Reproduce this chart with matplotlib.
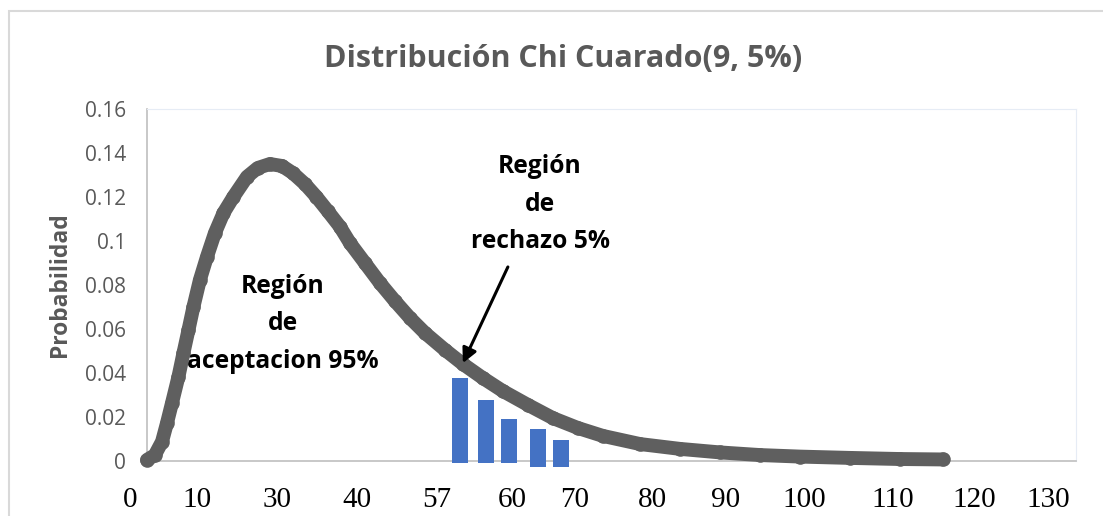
import matplotlib
matplotlib.use('Agg')
import matplotlib.pyplot as plt
from matplotlib.patches import Rectangle

# curve points (x in plot units 0-130, y = probability)
curve_x = [0.0, 1.1, 2.1, 2.8, 3.5, 4.4, 5.1, 5.8, 6.5, 7.4, 8.4, 9.5, 10.7, 12.1, 14.0,
           15.5, 17.2, 18.9, 20.4, 22.1, 23.7, 25.3, 27.0, 28.4, 30.5, 32.6, 34.7, 36.8,
           38.9, 41.7, 44.2, 47.0, 49.8, 53.3, 56.8, 60.3, 63.8, 69.0, 74.6, 80.2, 85.8,
           91.4, 98.4, 105.4, 111.4]
curve_y = [0.0005, 0.0027, 0.0088, 0.0173, 0.0264, 0.0383, 0.0491, 0.0595, 0.0701, 0.0823,
           0.0929, 0.1036, 0.1127, 0.1201, 0.1292, 0.1332, 0.1350, 0.1341, 0.1309, 0.1259,
           0.1201, 0.1136, 0.1065, 0.0991, 0.0900, 0.0809, 0.0727, 0.0650, 0.0582, 0.0505,
           0.0441, 0.0377, 0.0318, 0.0255, 0.0195, 0.0150, 0.0114, 0.0077, 0.0055, 0.0039,
           0.0027, 0.0020, 0.0014, 0.0009, 0.0007]

# rejection-region bars
bar_x = [43.8, 47.4, 50.7, 54.7, 57.9]
bar_top = [0.0377, 0.0277, 0.0191, 0.0145, 0.0095]
bar_bottom = [-0.0009, -0.0009, -0.0009, -0.0027, -0.0027]

# hand typed x labels under the chart
xlabels = ['0', '10', '30', '40', '57', '60', '70', '80', '90', '100', '110', '120', '130']
xlabel_pos = [-2.4, 7.0, 18.2, 29.4, 40.6, 51.1, 59.9, 70.7, 80.9, 92.0, 104.4, 115.7, 126.1]

yticks = [0, 0.02, 0.04, 0.06, 0.08, 0.1, 0.12, 0.14, 0.16]
ytick_labels = ['0', '0.02', '0.04', '0.06', '0.08', '0.1', '0.12', '0.14', '0.16']

gray = '#595959'
W, H = 1103, 516
fig = plt.figure(figsize=(W / 100, H / 100), dpi=100)
fig.patch.set_facecolor('white')

# chart area border
fig.patches.append(Rectangle((9 / W, -0.1), 1.2, 1.1 - 11 / H, transform=fig.transFigure,
                             fill=False, edgecolor='#D9D9D9', lw=1.5))

ax = fig.add_axes([147 / W, (H - 461) / H, (1076 - 147) / W, 352 / H])
ax.set_xlim(0, 130)
ax.set_ylim(0, 0.16)

ax.bar(bar_x, [t - b for t, b in zip(bar_top, bar_bottom)], bottom=bar_bottom,
       width=2.25, color='#4472C4', clip_on=False, zorder=3)

ax.plot(curve_x, curve_y, color='#5f5f5f', lw=10, solid_capstyle='round',
        solid_joinstyle='round', marker='o', ms=10.5, mew=0, clip_on=False, zorder=4)

ax.set_yticks(yticks)
ax.set_yticklabels(ytick_labels, fontsize=15, color=gray, family='Open Sans')
ax.tick_params(axis='y', length=0, pad=15)
ax.set_xticks([])

for side in ['left', 'bottom']:
    ax.spines[side].set_color('#BFBFBF')
    ax.spines[side].set_linewidth(1.2)
for side in ['top', 'right']:
    ax.spines[side].set_color('#E6ECF5')
    ax.spines[side].set_linewidth(0.8)

for lab, pos in zip(xlabels, xlabel_pos):
    ax.text(pos, -0.111, lab, transform=ax.get_xaxis_transform(), ha='center', va='center',
            fontsize=21, family='Liberation Serif', color='black', clip_on=False)

ax.set_ylabel('Probabilidad', fontsize=16.5, fontweight='bold', color=gray,
              family='Open Sans', labelpad=9)

fig.text(563 / W, 1 - 59 / H, 'Distribución Chi Cuarado(9, 5%)', ha='center', va='center',
         fontsize=22, fontweight='bold', color=gray, family='Open Sans')

ax.text(19.0, 0.0623, 'Región\nde\naceptacion 95%', ha='center', va='center',
        fontsize=17.7, fontweight='bold', family='Open Sans', linespacing=1.65, zorder=2)
ax.text(55.0, 0.1168, 'Región\nde\nrechazo 5%', ha='center', va='center',
        fontsize=17.7, fontweight='bold', family='Open Sans', linespacing=1.65, zorder=2)

ax.annotate('', xy=(44.2, 0.0445), xytext=(50.5, 0.0882),
            arrowprops=dict(arrowstyle='-|>', color='black', lw=2.2, mutation_scale=22,
                            shrinkA=0, shrinkB=0), zorder=5)

plt.savefig('out.png', dpi=100)
